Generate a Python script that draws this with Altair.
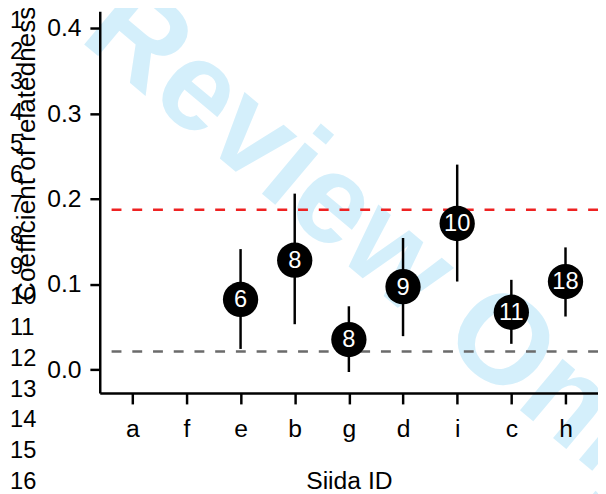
import altair as alt
import pandas as pd

# ---- data ----
siida_order = ["a", "f", "e", "b", "g", "d", "i", "c", "h"]
siida = ["e", "b", "g", "d", "i", "c", "h"]
relatedness = [0.082, 0.128, 0.035, 0.097, 0.171, 0.067, 0.103]
ci_low = [0.024, 0.053, -0.003, 0.039, 0.103, 0.030, 0.062]
ci_high = [0.141, 0.206, 0.074, 0.154, 0.240, 0.105, 0.143]
n_sampled = ["6", "8", "8", "9", "10", "11", "18"]
ref_values = [0.187, 0.021]
ref_names = ["upper", "lower"]
ref_colors = ["#EE2222", "#6B6B6B"]
y_ticks = [0.0, 0.1, 0.2, 0.3, 0.4]
line_numbers = [str(i) for i in range(1, 17)]
line_pos = list(range(1, 17))
watermark = ["For Review Only"]

FONT = "Liberation Sans"

pts = pd.DataFrame({"siida": siida, "r": relatedness, "lo": ci_low,
                    "hi": ci_high, "n": n_sampled})
refs = pd.DataFrame({"v": ref_values, "name": ref_names})
lines = pd.DataFrame({"t": line_numbers, "p": line_pos})
wm = pd.DataFrame({"t": watermark})

xscale = alt.Scale(type="point", domain=siida_order, padding=0.6)
yscale = alt.Scale(domain=[-0.0277, 0.4197], nice=False, zero=False)

xenc = alt.X("siida:N", scale=xscale, sort=siida_order,
             axis=alt.Axis(title="Siida ID", labelAngle=0, labelFontSize=25,
                           titleFontSize=25, titleFontWeight="normal",
                           tickSize=11, tickWidth=2.5, domainWidth=2.5,
                           domainColor="black", tickColor="black",
                           labelColor="black", titleColor="black",
                           labelPadding=13, labelFont=FONT, titleFont=FONT,
                           titleY=97, titleBaseline="alphabetic", grid=False,
                           zindex=1))
yenc_axis = alt.Axis(title="Coefficient of relatedness", values=y_ticks,
                     format=".1f", labelFontSize=25, titleFontSize=26.5,
                     titleFontWeight="normal", tickSize=10, tickWidth=2.5,
                     domainWidth=2.5, domainColor="black", tickColor="black",
                     labelColor="black", titleColor="black", labelPadding=9,
                     labelFont=FONT, titleFont=FONT, titleAngle=-90,
                     titleX=-66, titleY=144, titleAlign="center",
                     titleBaseline="alphabetic", grid=False, zindex=1)

wm_layer = alt.Chart(wm).mark_text(
    font=FONT, fontWeight="bold", fontSize=128, color="#D4EFFB",
    angle=40, align="center", baseline="middle"
).encode(text="t:N", x=alt.value(201), y=alt.value(166))

rule_layer = alt.Chart(refs).mark_rule(strokeWidth=2.5, strokeDash=[10, 11]).encode(
    y=alt.Y("v:Q", scale=yscale, axis=yenc_axis),
    color=alt.Color("name:N", scale=alt.Scale(domain=ref_names, range=ref_colors),
                    legend=None),
)

err_layer = alt.Chart(pts).mark_rule(strokeWidth=2.5, color="black").encode(
    x=xenc, y=alt.Y("lo:Q", scale=yscale), y2="hi:Q")

pt_layer = alt.Chart(pts).mark_point(filled=True, shape="circle", size=1280,
                                     color="black", opacity=1).encode(
    x=xenc, y=alt.Y("r:Q", scale=yscale))

txt_layer = alt.Chart(pts).mark_text(color="white", fontSize=24, font=FONT,
                                     baseline="middle", align="center", dy=1).encode(
    x=xenc, y=alt.Y("r:Q", scale=yscale), text="n:N")

main = alt.layer(rule_layer, err_layer, pt_layer, txt_layer)

ln_layer = alt.Chart(lines).mark_text(font=FONT, fontSize=24, color="black",
                                      align="left", baseline="alphabetic",
                                      dy=9).encode(
    x=alt.value(-91),
    y=alt.Y("p:Q", scale=alt.Scale(domain=[0.743, 13.175], reverse=True,
                                   nice=False, zero=False), axis=None),
    text="t:N")

chart = alt.layer(wm_layer, main, ln_layer).resolve_scale(y="independent").properties(
    width=505, height=387,
    autosize=alt.AutoSizeParams(type="none"),
    padding={"left": 93, "top": 0, "right": 0, "bottom": 99},
).configure_view(stroke=None)

chart.save("out.html", embed_options={"renderer": "svg", "actions": False})
